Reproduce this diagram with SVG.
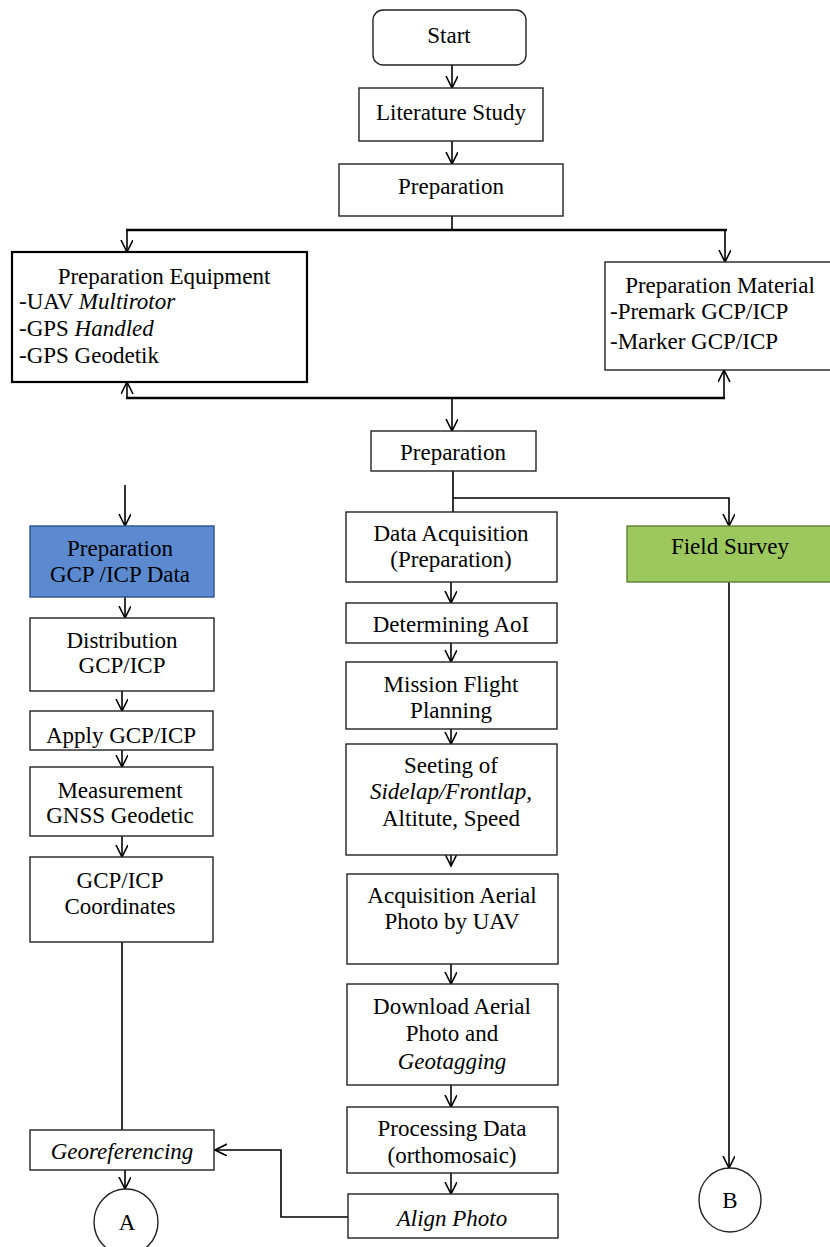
<svg xmlns="http://www.w3.org/2000/svg" width="830" height="1247" viewBox="0 0 830 1247">
<style>
text{font-family:"Liberation Serif","Times New Roman",serif;font-size:23px;fill:#000}
.c{text-anchor:middle}
.i{font-style:italic}
.b{fill:#fff;stroke:#222;stroke-width:1.4}
.ln{fill:none;stroke:#000;stroke-width:1.6}
.thick{stroke-width:2.6}
</style>
<defs>
<marker id="ah" markerUnits="userSpaceOnUse" markerWidth="14" markerHeight="14" refX="12" refY="6" orient="auto">
<path d="M0,0 L12,6 L0,12" fill="none" stroke="#000" stroke-width="1.6"/>
</marker>
<clipPath id="applyclip"><rect x="30" y="711" width="183" height="39"/></clipPath>
</defs>
<rect width="830" height="1247" fill="#fff"/>
<g id="connectors">
<line class="ln" x1="452" y1="65" x2="452" y2="88" marker-end="url(#ah)"/>
<line class="ln" x1="452" y1="141" x2="452" y2="164" marker-end="url(#ah)"/>
<line class="ln" x1="452" y1="216" x2="452" y2="230"/>
<line class="ln thick" x1="126" y1="230" x2="727" y2="230"/>
<line class="ln" x1="127" y1="230" x2="127" y2="252" marker-end="url(#ah)"/>
<line class="ln" x1="725" y1="230" x2="725" y2="262" marker-end="url(#ah)"/>
<line class="ln thick" x1="126" y1="398" x2="725" y2="398"/>
<line class="ln" x1="127" y1="398" x2="127" y2="382" marker-end="url(#ah)"/>
<line class="ln" x1="724" y1="398" x2="724" y2="370" marker-end="url(#ah)"/>
<line class="ln" x1="452" y1="398" x2="452" y2="431" marker-end="url(#ah)"/>
<line class="ln" x1="453" y1="471" x2="453" y2="512"/>
<polyline class="ln" points="453,498 729,498 729,526" marker-end="url(#ah)"/>
<line class="ln" x1="125" y1="485" x2="125" y2="526" marker-end="url(#ah)"/>
<line class="ln" x1="125" y1="597" x2="125" y2="618" marker-end="url(#ah)"/>
<line class="ln" x1="122" y1="691" x2="122" y2="711" marker-end="url(#ah)"/>
<line class="ln" x1="122" y1="750" x2="122" y2="767" marker-end="url(#ah)"/>
<line class="ln" x1="122" y1="836" x2="122" y2="857" marker-end="url(#ah)"/>
<line class="ln" x1="122" y1="942" x2="122" y2="1130"/>
<line class="ln" x1="125" y1="1170" x2="125" y2="1189" marker-end="url(#ah)"/>
<line class="ln" x1="451" y1="582" x2="451" y2="603" marker-end="url(#ah)"/>
<line class="ln" x1="451" y1="643" x2="451" y2="662" marker-end="url(#ah)"/>
<line class="ln" x1="451" y1="729" x2="451" y2="744" marker-end="url(#ah)"/>
<line class="ln" x1="451" y1="855" x2="451" y2="866" marker-end="url(#ah)"/>
<line class="ln" x1="451" y1="964" x2="451" y2="984" marker-end="url(#ah)"/>
<line class="ln" x1="451" y1="1085" x2="451" y2="1107" marker-end="url(#ah)"/>
<line class="ln" x1="451" y1="1173" x2="451" y2="1194" marker-end="url(#ah)"/>
<polyline class="ln" points="348,1217 281,1217 281,1150 215,1150" marker-end="url(#ah)"/>
<line class="ln" x1="729" y1="582" x2="729" y2="1168" marker-end="url(#ah)"/>
</g>
<g id="start"><rect class="b" x="373" y="10" width="153" height="55" rx="10"/><text class="c" x="449" y="43">Start</text></g>
<g id="literature"><rect class="b" x="359" y="88" width="184" height="53"/><text class="c" x="451" y="120">Literature Study</text></g>
<g id="preparation1"><rect class="b" x="339" y="164" width="224" height="52"/><text class="c" x="451" y="194">Preparation</text></g>
<g id="equipment"><rect class="b" x="12" y="252" width="295" height="130" style="stroke:#000;stroke-width:2.2"/>
<text class="c" x="164" y="284">Preparation Equipment</text>
<text x="19" y="309">-UAV <tspan class="i">Multirotor</tspan></text>
<text x="19" y="336">-GPS <tspan class="i">Handled</tspan></text>
<text x="19" y="363">-GPS Geodetik</text></g>
<g id="material"><rect class="b" x="605" y="262" width="230" height="108"/>
<text class="c" x="720" y="293">Preparation Material</text>
<text x="610" y="319">-Premark GCP/ICP</text>
<text x="610" y="349">-Marker GCP/ICP</text></g>
<g id="preparation2"><rect class="b" x="371" y="431" width="165" height="40"/><text class="c" x="453" y="460">Preparation</text></g>
<g id="prepgcp"><rect x="30" y="526" width="184" height="71" fill="#5b8ad0" stroke="#2f528f" stroke-width="1.4"/>
<text class="c" x="120" y="556">Preparation</text><text class="c" x="120" y="582">GCP /ICP Data</text></g>
<g id="distribution"><rect class="b" x="30" y="618" width="184" height="73"/>
<text class="c" x="122" y="648">Distribution</text><text class="c" x="122" y="673">GCP/ICP</text></g>
<g id="apply"><rect class="b" x="30" y="711" width="183" height="39"/>
<text class="c" x="121" y="743" clip-path="url(#applyclip)">Apply GCP/ICP</text></g>
<g id="measurement"><rect class="b" x="30" y="767" width="183" height="69"/>
<text class="c" x="120" y="798">Measurement</text><text class="c" x="120" y="823">GNSS Geodetic</text></g>
<g id="coordinates"><rect class="b" x="30" y="857" width="183" height="85"/>
<text class="c" x="120" y="888">GCP/ICP</text><text class="c" x="120" y="914">Coordinates</text></g>
<g id="georef"><rect class="b" x="30" y="1130" width="184" height="40"/>
<text class="c i" x="122" y="1159">Georeferencing</text></g>
<g id="circleA"><ellipse cx="126" cy="1222" rx="32" ry="33" fill="#fff" stroke="#222" stroke-width="1.4"/><text class="c" x="127" y="1230">A</text></g>
<g id="dataacq"><rect class="b" x="346" y="512" width="211" height="70"/>
<text class="c" x="451" y="541">Data Acquisition</text><text class="c" x="451" y="567">(Preparation)</text></g>
<g id="aoi"><rect class="b" x="346" y="603" width="211" height="40"/>
<text class="c" x="451" y="632">Determining AoI</text></g>
<g id="mission"><rect class="b" x="346" y="662" width="211" height="67"/>
<text class="c" x="451" y="692">Mission Flight</text><text class="c" x="451" y="718">Planning</text></g>
<g id="seeting"><rect class="b" x="346" y="744" width="211" height="111"/>
<text class="c" x="451" y="773">Seeting of</text><text class="c i" x="451" y="799">Sidelap/Frontlap,</text><text class="c" x="451" y="826">Altitute, Speed</text></g>
<g id="acquisition"><rect class="b" x="347" y="874" width="211" height="90"/>
<text class="c" x="452" y="903">Acquisition Aerial</text><text class="c" x="452" y="929">Photo by UAV</text></g>
<g id="download"><rect class="b" x="347" y="984" width="211" height="101"/>
<text class="c" x="452" y="1014">Download Aerial</text><text class="c" x="452" y="1041">Photo and</text><text class="c i" x="452" y="1069">Geotagging</text></g>
<g id="processing"><rect class="b" x="347" y="1107" width="211" height="66"/>
<text class="c" x="452" y="1136">Processing Data</text><text class="c" x="452" y="1163">(orthomosaic)</text></g>
<g id="align"><rect class="b" x="348" y="1194" width="210" height="44"/>
<text class="c i" x="452" y="1226">Align Photo</text></g>
<g id="field"><rect x="627" y="526" width="210" height="56" fill="#9dc85e" stroke="#5f7f35" stroke-width="1.4"/>
<text class="c" x="730" y="554">Field Survey</text></g>
<g id="circleB"><ellipse cx="730" cy="1200" rx="31" ry="32" fill="#fff" stroke="#222" stroke-width="1.4"/><text class="c" x="730" y="1208">B</text></g>
</svg>
